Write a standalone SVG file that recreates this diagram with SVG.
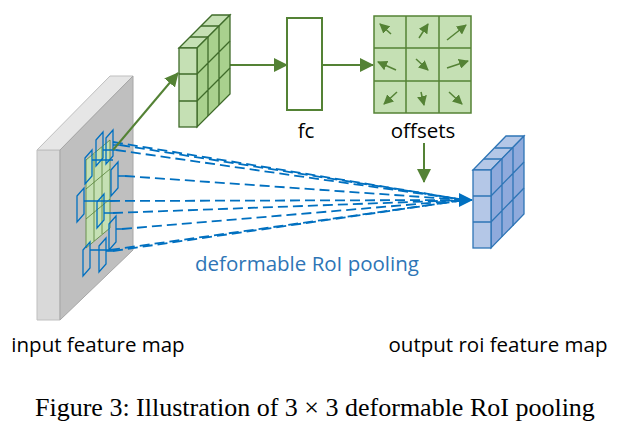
<svg xmlns="http://www.w3.org/2000/svg" width="634" height="428" viewBox="0 0 634 428">
<style>
.g{fill:#c5e0b4;stroke:#3f6b2a;stroke-width:1.3}
.gd{fill:#a9d18e;stroke:#3f6b2a;stroke-width:1.3}
.b{fill:#b4c7e7;stroke:#2e75b6;stroke-width:1.3}
.bd{fill:#8faadc;stroke:#2e75b6;stroke-width:1.3}
.ga{stroke:#548235;stroke-width:2;fill:none}
.dash{stroke:#0070c0;stroke-width:1.8;stroke-dasharray:10,5;fill:none}
.r{fill:none;stroke:#0070c0;stroke-width:1.3}
.t{font-family:"Open Sans","Liberation Sans",sans-serif;font-size:20.5px}
</style>
<defs>
<marker id="ag" markerWidth="10" markerHeight="10" refX="9" refY="5" orient="auto" markerUnits="userSpaceOnUse"><path d="M0,0L10,5L0,10z" fill="#548235"/></marker>
<marker id="ab" markerWidth="14" markerHeight="14" refX="13" refY="7" orient="auto" markerUnits="userSpaceOnUse"><path d="M0,0L14,7L0,14z" fill="#0070c0"/></marker>
<marker id="ag2" markerWidth="14" markerHeight="14" refX="13" refY="7" orient="auto" markerUnits="userSpaceOnUse"><path d="M0,0L14,7L0,14z" fill="#548235"/></marker>
</defs>
<g id="input">
<polygon points="37,150 60,150 60,320 37,320" fill="#d9d9d9" stroke="#bfbfbf"/>
<polygon points="37,150 110,76 133,76 60,150" fill="#e6e6e6" stroke="#bfbfbf"/>
<polygon points="60,150 133,76 133,250 60,320" fill="#bfbfbf" stroke="#a6a6a6"/>
<polygon points="86,160 110,140 110,228 86,248" fill="#c5e0b4" stroke="#548235" stroke-width="0.8"/>
<path d="M94,154V241M102,147V234M86,189L110,169M86,219L110,199" stroke="#548235" stroke-width="0.8"/>
<g class="r">
<polygon points="85,158 92,150 92,176 85,184"/>
<polygon points="96,140 103,132 103,158 96,166"/>
<polygon points="106,138 113,130 113,156 106,164"/>
<polygon points="111,170 118,162 118,188 111,196"/>
<polygon points="77,196 84,188 84,214 77,222"/>
<polygon points="97,202 104,194 104,220 97,228"/>
<polygon points="109,224 116,216 116,242 109,250"/>
<polygon points="83,250 90,242 90,268 83,276"/>
<polygon points="99,246 106,238 106,264 99,272"/>
</g>
<path d="M92,160H113M103,150H116M113,145H120M118,176H125M84,201H110M104,213H113M116,229H122M90,250H110M106,251H113" stroke="#0070c0" stroke-width="1.3"/>
</g>
<g id="connectors">
<g class="dash">
<path d="M113,142L465,200"/><path d="M120,145L465,200"/><path d="M116,150L465,200"/>
<path d="M125,176L465,200"/><path d="M110,201L465,200"/><path d="M113,213L465,200"/>
<path d="M122,229L465,200"/><path d="M110,250L465,200"/><path d="M113,251L465,200"/>
</g>
<path d="M465,200H472" stroke="#0070c0" stroke-width="2" marker-end="url(#ab)"/>
<path class="ga" d="M113,150L178,73" marker-end="url(#ag2)"/>
<path class="ga" d="M197,65H287" marker-end="url(#ag2)"/>
<path class="ga" d="M322,65H373" marker-end="url(#ag2)"/>
<path class="ga" d="M424,143V182" marker-end="url(#ag2)"/>
</g>
<g id="roi-cube">
<polygon class="g" points="179,48 212,15 230,15 197,48"/>
<path d="M190,37H208M201,26H219" stroke="#3f6b2a" stroke-width="1.3"/>
<polygon class="gd" points="197,48 230,15 230,94 197,127"/>
<path d="M208,37V116M219,26V105M197,74L230,41M197,101L230,68" stroke="#3f6b2a" stroke-width="1.3"/>
<rect class="g" x="179" y="48" width="18" height="79"/>
<path d="M179,74H197M179,101H197" stroke="#3f6b2a" stroke-width="1.3"/>
</g>
<g id="fc">
<rect x="287" y="18" width="35" height="92" fill="#fff" stroke="#548235" stroke-width="2"/>
<text class="t" x="306" y="138" text-anchor="middle">fc</text>
</g>
<g id="offsets">
<rect x="374" y="16" width="97" height="97" fill="#c5e0b4" stroke="#548235" stroke-width="1.5"/>
<path d="M406,16V113M439,16V113M374,48H471M374,81H471" stroke="#548235" stroke-width="1.5"/>
<g stroke="#548235" stroke-width="1.5" marker-end="url(#ag)">
<path d="M391,34L380,24"/><path d="M419,38L428,24"/><path d="M447,40L466,25"/>
<path d="M396,70L378,62"/><path d="M416,59L428,70"/><path d="M447,68L468,61"/>
<path d="M397,92L384,104"/><path d="M421,92L424,105"/><path d="M449,92L462,104"/>
</g>
<text class="t" x="423" y="138" text-anchor="middle">offsets</text>
</g>
<g id="output-cube">
<polygon class="b" points="473,170 506,136 524,136 491,170"/>
<path d="M484,159H502M495,148H513" stroke="#2e75b6" stroke-width="1.3"/>
<polygon class="bd" points="491,170 524,136 524,214 491,248"/>
<path d="M502,159V237M513,148V226M491,196L524,162M491,222L524,188" stroke="#2e75b6" stroke-width="1.3"/>
<rect class="b" x="473" y="170" width="18" height="78"/>
<path d="M473,196H491M473,222H491" stroke="#2e75b6" stroke-width="1.3"/>
</g>
<text class="t" x="307" y="271" text-anchor="middle" fill="#2e75b6">deformable RoI pooling</text>
<text class="t" x="98" y="352" text-anchor="middle">input feature map</text>
<text class="t" x="498" y="352" text-anchor="middle">output roi feature map</text>
<text x="35" y="416" font-family="Liberation Serif,serif" font-size="26">Figure 3: Illustration of 3 × 3 deformable RoI pooling</text>
</svg>
